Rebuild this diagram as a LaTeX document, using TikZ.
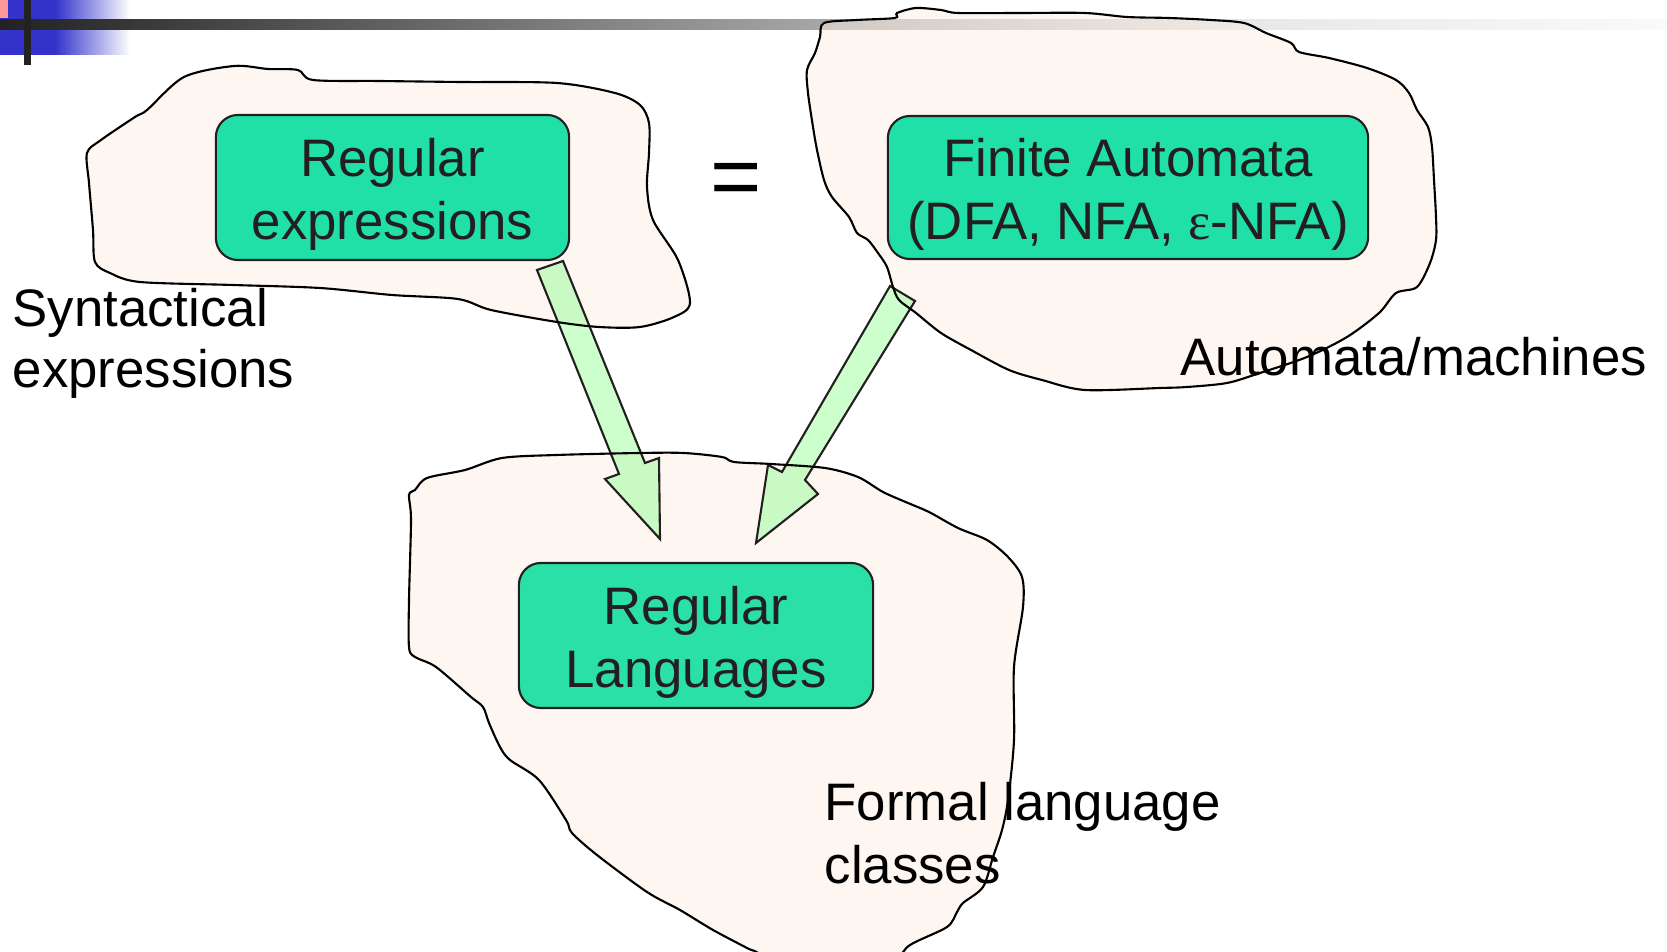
\documentclass[tikz,border=0pt]{standalone}
\usepackage{fontspec}
\setmainfont{Liberation Sans}
\newfontfamily\greekserif{Liberation Serif}
\definecolor{boxgreen}{RGB}{32,224,168}
\definecolor{boxgreenb}{RGB}{42,224,166}
\definecolor{boxline}{RGB}{35,31,32}
\definecolor{blobfill}{RGB}{251,237,227}
\definecolor{arrowfill}{RGB}{153,255,153}
\definecolor{hdrblue}{RGB}{51,51,204}
\definecolor{hdrpink}{RGB}{255,153,153}
\definecolor{barA}{RGB}{34,34,34}
\definecolor{barB}{RGB}{138,138,138}
\definecolor{barC}{RGB}{232,232,232}
\definecolor{barD}{RGB}{250,250,250}
\tikzset{
  rbox/.style={draw=boxline, line width=0.6pt, fill=boxgreen, rounded corners=0.22cm,
    inner sep=0pt, align=center, text=boxline, font=\fontsize{15}{18}\selectfont},
  lbl/.style={inner sep=0pt, anchor=base west, text=black, font=\fontsize{15}{17}\selectfont},
  blobbg/.style={fill=blobfill, fill opacity=0.5},
  blobline/.style={draw=black, line width=0.6pt},
  fatarrow/.style={draw=boxline, line width=0.6pt, fill=arrowfill, fill opacity=0.5, line join=miter}
}
\newcommand{\topstrut}{\rule{0pt}{0.99em}}
\newcommand{\botstrut}{\rule[-0.22em]{0pt}{0.22em}}
\def\blobA{plot[smooth cycle, tension=0.5] coordinates {
 (234,66) (268,69) (298,70) (313,80) (380,81) (460,82) (557,83) (615,93) (640,105) (649,123)
 (649,153) (647,187) (653,220) (678,260) (690,303) (674,317) (640,327) (599,327) (557,322)
 (491,310) (458,299) (392,295) (320,288) (233,285) (140,282) (110,273) (95,262) (93,230)
 (89,183) (87,153) (101,140) (135,117) (147,110) (184,77)}}
\def\blobB{plot[smooth cycle, tension=0.5] coordinates {
 (824,23) (857,20) (895,18) (897,13) (916,8) (941,10) (958,13) (1020,13) (1085,13) (1127,17)
 (1169,18) (1211,20) (1244,23) (1266,33) (1291,43) (1299,52) (1329,58) (1367,68) (1396,80)
 (1409,93) (1417,110) (1428,127) (1432,147) (1434,180) (1436,217) (1436,240) (1430,263)
 (1417,287) (1396,293) (1379,313) (1347,337) (1307,357) (1260,373) (1227,383) (1187,387)
 (1160,388) (1085,390) (1042,380) (1009,370) (971,350) (941,333) (916,313) (899,300) (893,287)
 (887,267) (878,253) (868,240) (857,233) (849,217) (832,197) (824,180) (817,150) (813,127)
 (808,93) (807,70) (815,53) (820,37)}}
\def\blobC{plot[smooth cycle, tension=0.5] coordinates {
 (409,495) (415,490) (427,478) (465,470) (502,458) (556,455) (639,453) (684,453) (722,457)
 (734,462) (771,464) (825,468) (858,477) (883,492) (908,503) (929,512) (958,528) (987,540)
 (1008,557) (1022,577) (1023,607) (1014,667) (1014,740) (1008,800) (1002,830) (993,857)
 (983,887) (963,903) (957,912) (947,927) (910,945) (898,960) (880,985) (780,985) (760,955)
 (747,948) (713,930) (680,910) (647,892) (597,855) (572,833) (566,820) (539,780) (510,760)
 (500,747) (489,723) (483,707) (471,697) (436,667) (415,657) (409,647) (409,600) (411,520)}}
\begin{document}
\begin{tikzpicture}[x=0.01cm, y=-0.01cm]
\useasboundingbox (0,0) rectangle (1667,952);
% header decoration
\fill[hdrblue] (0,0) rectangle (55,55);
\shade[left color=hdrblue, right color=white] (55,0) rectangle (130,55);
\fill[hdrpink] (0,0) rectangle (8,18);
\shade[left color=barA, right color=barB] (0,20) rectangle (640,30);
\shade[left color=barB, right color=barC] (640,20) rectangle (1250,30);
\shade[left color=barC, right color=barD] (1250,20) rectangle (1667,30);
\fill[barA] (24,0) rectangle (31,65);
% blob fills
\path[blobbg] \blobA;
\path[blobbg] \blobB;
\path[blobbg] \blobC;
% fat arrows
\coordinate (a1tail) at (550,265);
\coordinate (a1tip) at (660,539);
\coordinate (a2tail) at (902,293);
\coordinate (a2tip) at (756,543);
\path[fatarrow] (537,270) -- (563,261) -- (645,463) -- (659,458) -- (a1tip) -- (605,479) -- (619,474) -- cycle;
\path[fatarrow] (890,286) -- (915,301) -- (805,480) -- (818,494) -- (a2tip) -- (768,465) -- (782,472) -- cycle;
% blob outlines
\path[blobline] \blobA;
\path[blobline] \blobB;
\path[blobline] \blobC;
% boxes
\node[rbox, minimum width=3.53cm, minimum height=1.45cm] (regex) at (392.5,187.5)
  {\topstrut Regular\\expressions\botstrut};
\node[rbox, minimum width=4.80cm, minimum height=1.43cm] (fa) at (1128,187.5)
  {\topstrut Finite Automata\\(DFA, NFA, {\greekserif ε}-NFA)\botstrut};
\node[rbox, fill=boxgreenb, minimum width=3.54cm, minimum height=1.45cm] (rl) at (696,635.5)
  {\topstrut Regular\\Languages\botstrut};
\node[inner sep=0pt, anchor=base, font=\fontsize{25}{30}\selectfont] (eq) at (736.5,207) {=};
% labels
\node[lbl] (syn1) at (12,327) {Syntactical};
\node[lbl] (syn2) at (12,387) {expressions};
\node[lbl] (aut) at (1180,376) {Automata/machines};
\node[lbl] (fl1) at (824,820) {Formal language};
\node[lbl] (fl2) at (824,883) {classes};
\end{tikzpicture}
\end{document}
